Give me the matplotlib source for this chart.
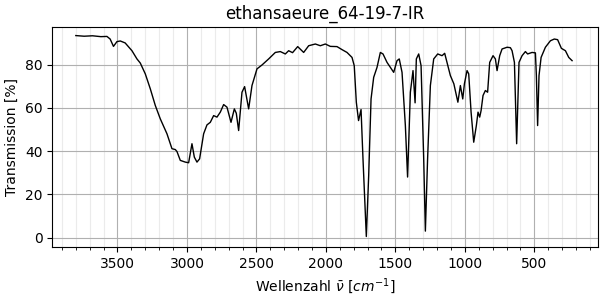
import matplotlib.pyplot as plt
import matplotlib.ticker as ticker

# wavenumber [1/cm] and transmission [%]
wellenzahl = [3800, 3740, 3680, 3620, 3576, 3553, 3529, 3504, 3480, 3445, 3396,
              3360, 3336, 3300, 3264, 3228, 3192, 3144, 3108, 3084, 3072, 3048,
              3012, 2988, 2964, 2947, 2928, 2909, 2880, 2856, 2832, 2808, 2784,
              2760, 2736, 2712, 2683, 2659, 2645, 2628, 2604, 2585, 2556, 2532,
              2496, 2460, 2412, 2364, 2328, 2292, 2268, 2240, 2203, 2160, 2124,
              2076, 2040, 2004, 1968, 1920, 1884, 1848, 1812, 1796, 1781, 1765,
              1747, 1733, 1709, 1692, 1675, 1656, 1632, 1608, 1589, 1560, 1536,
              1512, 1488, 1472, 1452, 1428, 1412, 1392, 1373, 1358, 1349, 1332,
              1315, 1296, 1284, 1268, 1248, 1224, 1195, 1164, 1145, 1128, 1104,
              1079, 1050, 1032, 1015, 1003, 984, 972, 955, 936, 917, 905, 893,
              883, 869, 852, 836, 821, 797, 780, 768, 749, 732, 696, 672, 660,
              643, 627, 610, 588, 564, 548, 516, 492, 485, 476, 466, 451, 420,
              384, 356, 332, 305, 276, 252, 228]
transmission = [93.4, 93.1, 93.3, 92.9, 93.0, 91.8, 88.4, 90.6, 90.9, 90.0, 86.4,
                82.6, 80.7, 75.7, 68.8, 61.1, 54.9, 48.0, 41.1, 40.7, 39.8, 35.7,
                34.9, 34.6, 43.4, 37.2, 34.9, 36.4, 48.0, 52.1, 53.3, 56.4, 55.7,
                58.0, 61.5, 60.3, 53.3, 59.5, 57.5, 49.5, 67.2, 69.8, 59.5, 70.3,
                78.0, 79.8, 82.6, 85.6, 86.0, 84.9, 86.4, 85.5, 88.3, 85.6, 88.7,
                89.5, 88.7, 89.5, 88.4, 88.3, 86.9, 85.6, 83.3, 79.5, 62.6, 54.1,
                59.2, 36.4, 0.5, 28.7, 64.1, 74.1, 78.7, 85.6, 84.9, 81.0, 78.7,
                76.4, 81.8, 82.6, 76.4, 51.8, 28.0, 67.2, 77.2, 62.3, 82.6, 84.9,
                79.5, 36.4, 3.0, 36.4, 70.3, 82.6, 84.9, 84.1, 85.2, 81.0, 74.9,
                71.1, 62.6, 70.3, 64.1, 71.1, 77.2, 75.7, 58.0, 44.1, 51.8, 58.0,
                55.7, 58.7, 65.7, 68.0, 67.2, 81.0, 84.1, 82.6, 77.2, 84.1, 87.2,
                88.0, 87.8, 86.4, 81.0, 43.4, 81.0, 84.1, 86.0, 84.9, 85.6, 85.4,
                74.9, 51.8, 74.9, 83.3, 88.0, 91.0, 91.8, 91.5, 87.5, 86.4, 83.3,
                81.8]

fig, ax = plt.subplots(figsize=(6, 3), dpi=100)
fig.subplots_adjust(left=0.087, right=0.997, top=0.911, bottom=0.177)

ax.plot(wellenzahl, transmission, color="k", linewidth=1)

ax.set_xlim(3970, 40)
ax.set_ylim(-4.3, 97.5)

ax.xaxis.set_major_locator(ticker.MultipleLocator(500))
ax.xaxis.set_minor_locator(ticker.MultipleLocator(100))
ax.yaxis.set_major_locator(ticker.MultipleLocator(20))

ax.grid(which="major", color="#b0b0b0", linewidth=0.8)
ax.grid(which="minor", axis="x", color="#ebebeb", linewidth=0.8)

ax.set_title("ethansaeure_64-19-7-IR")
ax.set_xlabel(r"Wellenzahl $\bar{\nu}$ $[cm^{-1}]$")
ax.set_ylabel("Transmission [%]")

fig.savefig("out.png")
